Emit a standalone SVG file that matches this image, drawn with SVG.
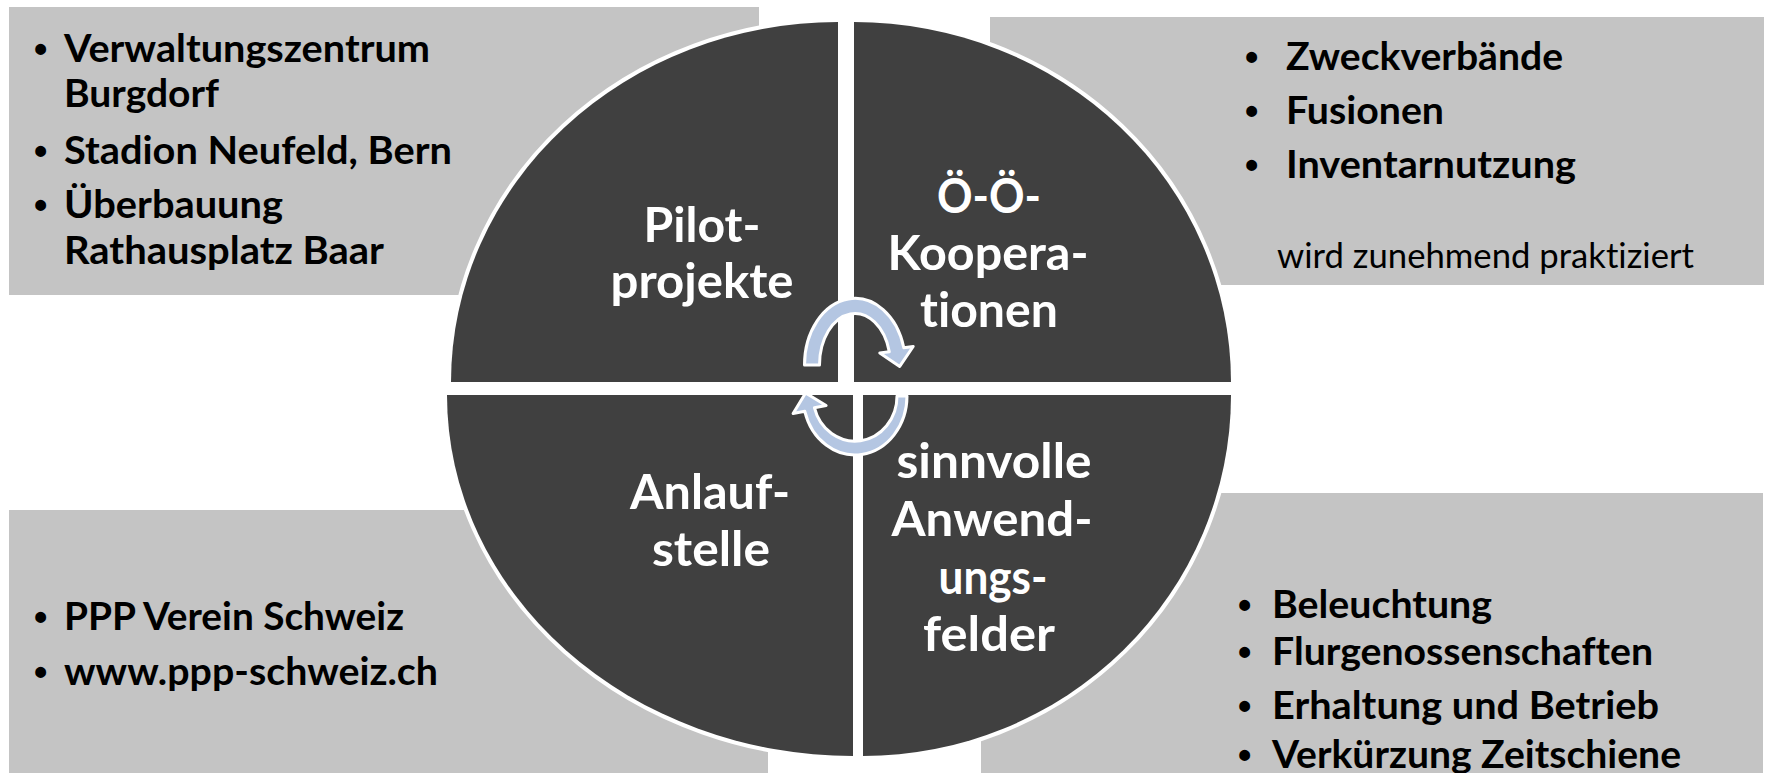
<svg xmlns="http://www.w3.org/2000/svg" width="1770" height="773" viewBox="0 0 1770 773">
<style>
text{font-variant-ligatures:none}
.box{fill:#C4C4C4}
.quad{fill:#404040;stroke:#FFFFFF;stroke-width:8;paint-order:stroke;stroke-linejoin:miter}
.b{font-family:Lato,"Liberation Sans",sans-serif;font-weight:bold;font-size:39px;fill:#000}
.bul{font-family:"Liberation Sans",Arial,sans-serif;font-weight:bold;font-size:38px;fill:#000}
.r{font-family:Lato,"Liberation Sans",sans-serif;font-weight:normal;font-size:34px;fill:#000}
.q{font-family:Lato,"Liberation Sans",sans-serif;font-weight:bold;font-size:48px;fill:#FFF;text-anchor:middle}
.arrow{fill:#B4C6E2;stroke:#FFFFFF;stroke-width:3;stroke-linejoin:round}
</style>
<rect width="1770" height="773" fill="#FFFFFF"/>
<g id="box-tl">
<rect class="box" x="9" y="7" width="750" height="288"/>
<text class="bul" x="34" y="62">•</text>
<text class="b" x="64" y="62" textLength="366" lengthAdjust="spacingAndGlyphs">Verwaltungszentrum</text>
<text class="b" x="64" y="107" textLength="155" lengthAdjust="spacingAndGlyphs">Burgdorf</text>
<text class="bul" x="34" y="164">•</text>
<text class="b" x="64" y="164" textLength="388" lengthAdjust="spacingAndGlyphs">Stadion Neufeld, Bern</text>
<text class="bul" x="34" y="218">•</text>
<text class="b" x="64" y="218" textLength="219" lengthAdjust="spacingAndGlyphs">Überbauung</text>
<text class="b" x="64" y="264" textLength="320" lengthAdjust="spacingAndGlyphs">Rathausplatz Baar</text>
</g>
<g id="box-tr">
<rect class="box" x="990" y="17" width="774" height="268"/>
<text class="bul" x="1245" y="70">•</text>
<text class="b" x="1286" y="70" textLength="277" lengthAdjust="spacingAndGlyphs">Zweckverbände</text>
<text class="bul" x="1245" y="124">•</text>
<text class="b" x="1286" y="124" textLength="158" lengthAdjust="spacingAndGlyphs">Fusionen</text>
<text class="bul" x="1245" y="178">•</text>
<text class="b" x="1286" y="178" textLength="290" lengthAdjust="spacingAndGlyphs">Inventarnutzung</text>
<text class="r" x="1277" y="268" textLength="417" lengthAdjust="spacingAndGlyphs">wird zunehmend praktiziert</text>
</g>
<g id="box-bl">
<rect class="box" x="9" y="510" width="759" height="263"/>
<text class="bul" x="34" y="630">•</text>
<text class="b" x="64" y="630" textLength="340" lengthAdjust="spacingAndGlyphs">PPP Verein Schweiz</text>
<text class="bul" x="34" y="685">•</text>
<text class="b" x="64" y="685" textLength="374" lengthAdjust="spacingAndGlyphs">www.ppp-schweiz.ch</text>
</g>
<g id="box-br">
<rect class="box" x="981" y="493" width="782" height="280"/>
<text class="bul" x="1238" y="618">•</text>
<text class="b" x="1272" y="618" textLength="220" lengthAdjust="spacingAndGlyphs">Beleuchtung</text>
<text class="bul" x="1238" y="665">•</text>
<text class="b" x="1272" y="665" textLength="381" lengthAdjust="spacingAndGlyphs">Flurgenossenschaften</text>
<text class="bul" x="1238" y="719">•</text>
<text class="b" x="1272" y="719" textLength="387" lengthAdjust="spacingAndGlyphs">Erhaltung und Betrieb</text>
<text class="bul" x="1238" y="768">•</text>
<text class="b" x="1272" y="768" textLength="409" lengthAdjust="spacingAndGlyphs">Verkürzung Zeitschiene</text>
</g>
<g id="quad-pilot">
<path class="quad" d="M838,382 L451,382 A387,360 0 0 1 838,22 Z"/>
<text class="q" x="702" y="242" textLength="117" lengthAdjust="spacingAndGlyphs">Pilot-</text>
<text class="q" x="702" y="298" textLength="183" lengthAdjust="spacingAndGlyphs">projekte</text>
</g>
<g id="quad-oeoe">
<path class="quad" d="M854,382 L854,22 A377,360 0 0 1 1231,382 Z"/>
<text class="q" x="989" y="213" textLength="104" lengthAdjust="spacingAndGlyphs">Ö-Ö-</text>
<text class="q" x="988" y="270" textLength="201" lengthAdjust="spacingAndGlyphs">Koopera-</text>
<text class="q" x="989" y="327" textLength="138" lengthAdjust="spacingAndGlyphs">tionen</text>
</g>
<g id="quad-anlauf">
<path class="quad" d="M853,395 L853,756 A406,361 0 0 1 447,395 Z"/>
<text class="q" x="710" y="509" textLength="160" lengthAdjust="spacingAndGlyphs">Anlauf-</text>
<text class="q" x="711" y="566" textLength="118" lengthAdjust="spacingAndGlyphs">stelle</text>
</g>
<g id="quad-felder">
<path class="quad" d="M863,395 L1231,395 A368,361 0 0 1 863,756 Z"/>
<text class="q" x="994" y="478" textLength="195" lengthAdjust="spacingAndGlyphs">sinnvolle</text>
<text class="q" x="992" y="536" textLength="201" lengthAdjust="spacingAndGlyphs">Anwend-</text>
<text class="q" x="993" y="594" textLength="109" lengthAdjust="spacingAndGlyphs">ungs-</text>
<text class="q" x="989" y="651" textLength="132" lengthAdjust="spacingAndGlyphs">felder</text>
</g>
<g id="connectors">
<path class="arrow" d="M804.5,365 A50.5,66.5 0 0 1 903.8,347.8 L913.2,346.5 L899.7,366.4 L879.8,352.9 L889.3,351.7 A35.5,51.5 0 0 0 819.5,365 Z"/>
<path class="arrow" d="M907,396 A52,59 0 0 1 804.8,411.3 L793.1,413.5 L805.6,393 L826.1,405.5 L814.4,407.7 A42,45 0 0 0 897,396 Z"/>
</g>
</svg>
